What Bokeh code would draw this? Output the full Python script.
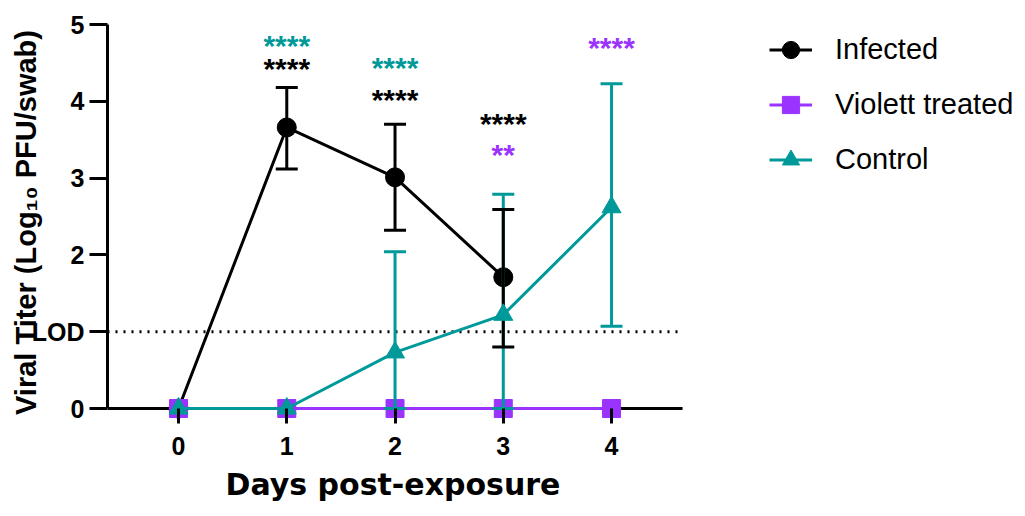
from bokeh.plotting import figure
from bokeh.models import ColumnDataSource, Legend, LegendItem, FixedTicker, Range1d, Title
from bokeh.core.properties import value
from bokeh.embed import file_html
from bokeh.resources import INLINE

# ---------------- data ----------------
days = [0, 1, 2, 3, 4]
x_ticks = [0, 1, 2, 3, 4]
y_ticks = [0, 1, 2, 3, 4, 5]
y_tick_labels = {1: "LOD"}
lod_value = 1

infected_days = [0, 1, 2, 3]
infected_mean = [0.0, 3.66, 3.01, 1.71]
infected_err_days = [1, 2, 3]
infected_upper = [4.18, 3.70, 2.59]
infected_lower = [3.12, 2.32, 0.80]

violett_days = [0, 1, 2, 3, 4]
violett_mean = [0.0, 0.0, 0.0, 0.0, 0.0]

control_days = [0, 1, 2, 3, 4]
control_mean = [0.0, 0.0, 0.73, 1.22, 2.62]
control_err_days = [2, 3, 4]
control_upper = [2.04, 2.79, 4.23]
control_lower = [0.0, 0.0, 1.07]

sig_days = [1, 1, 2, 2, 3, 3, 4]
sig_y = [4.77, 4.47, 4.48, 4.06, 3.75, 3.35, 4.74]
sig_text = ["****", "****", "****", "****", "****", "**", "****"]
sig_group = ["Control", "Infected", "Control", "Infected", "Infected", "Violett treated", "Violett treated"]

# ---------------- axis extents ----------------
X_START = -0.656          # left edge of the plotting area (y axis position)
X_AXIS_END = 4.656        # where the x axis line ends
X_END = 7.75              # frame extends right to hold the legend
Y_START = -0.156
Y_END = 5.0

# ---------------- style ----------------
BLACK = "#000000"
PURPLE = "#9B33FF"
TEAL = "#00999A"
colors = {"Infected": BLACK, "Violett treated": PURPLE, "Control": TEAL}
FONT = value("Liberation Sans")

p = figure(width=1017, height=508, output_backend="svg", toolbar_location=None,
           x_range=Range1d(X_START, X_END), y_range=Range1d(Y_START, Y_END),
           min_border_left=107, min_border_right=0, min_border_top=24, min_border_bottom=88)
p.outline_line_color = None
p.xgrid.visible = False
p.ygrid.visible = False
p.background_fill_color = "white"
p.border_fill_color = "white"

# axes
xa = p.xaxis[0]
xa.ticker = FixedTicker(ticks=x_ticks)
xa.axis_line_color = None
xa.major_tick_in = 12
xa.major_tick_out = 3
xa.major_tick_line_width = 3
xa.minor_tick_line_color = None
xa.major_label_text_font = "Liberation Sans"
xa.major_label_text_font_style = "bold"
xa.major_label_text_font_size = "25px"
xa.major_label_text_color = BLACK
xa.major_label_standoff = 13

# x axis title, placed under the axis line (frame extends further right for the legend)
x_title = Title(text="Days post-exposure", align="left", offset=118, standoff=14,
                text_font="DejaVu Sans", text_font_style="bold", text_font_size="30px",
                text_color=BLACK)
p.add_layout(x_title, "below")

ya = p.yaxis[0]
ya.ticker = FixedTicker(ticks=y_ticks)
ya.major_label_overrides = y_tick_labels
ya.bounds = (0, 5)
ya.axis_line_width = 3
ya.axis_line_color = BLACK
ya.major_tick_in = 0
ya.major_tick_out = 18
ya.major_tick_line_width = 3
ya.minor_tick_line_color = None
ya.major_label_text_font = "Liberation Sans"
ya.major_label_text_font_style = "bold"
ya.major_label_text_font_size = "25px"
ya.major_label_text_color = BLACK
ya.major_label_standoff = 5
ya.axis_label = "Viral Titer (Log\u2081\u2080 PFU/swab)"
ya.axis_label_text_font = "Liberation Sans"
ya.axis_label_text_font_style = "bold"
ya.axis_label_text_font_size = "29px"
ya.axis_label_text_color = BLACK
ya.axis_label_standoff = -13

# x axis line at y=0 and LOD dotted line (limited to the axis extent)
p.segment(x0=[X_START], y0=[0], x1=[X_AXIS_END], y1=[0], line_color=BLACK, line_width=3)
p.segment(x0=[X_START], y0=[lod_value], x1=[X_AXIS_END], y1=[lod_value], line_color=BLACK,
          line_width=3, line_dash="2 6")

inf_src = ColumnDataSource(dict(x=infected_days, y=infected_mean))
inf_err = ColumnDataSource(dict(x=infected_err_days, upper=infected_upper, lower=infected_lower))
vio_src = ColumnDataSource(dict(x=violett_days, y=violett_mean))
con_src = ColumnDataSource(dict(x=control_days, y=control_mean))
con_err = ColumnDataSource(dict(x=control_err_days, upper=control_upper, lower=control_lower))

# drawing order
l_inf = p.line("x", "y", source=inf_src, line_color=BLACK, line_width=3)
s_inf = p.scatter("x", "y", source=inf_src, marker="circle", size=19, fill_color=BLACK, line_color=BLACK)
l_vio = p.line("x", "y", source=vio_src, line_color=PURPLE, line_width=3)
s_vio = p.scatter("x", "y", source=vio_src, marker="square", size=18, fill_color=PURPLE, line_color=PURPLE)

p.segment(x0="x", y0="lower", x1="x", y1="upper", source=con_err, line_color=TEAL, line_width=3)
p.scatter("x", "upper", source=con_err, marker="dash", size=22, line_color=TEAL, line_width=3)
p.scatter("x", "lower", source=con_err, marker="dash", size=22, line_color=TEAL, line_width=3)
p.segment(x0="x", y0="lower", x1="x", y1="upper", source=inf_err, line_color=BLACK, line_width=3)
p.scatter("x", "upper", source=inf_err, marker="dash", size=22, line_color=BLACK, line_width=3)
p.scatter("x", "lower", source=inf_err, marker="dash", size=22, line_color=BLACK, line_width=3)

l_con = p.line("x", "y", source=con_src, line_color=TEAL, line_width=3)
s_con = p.scatter("x", "y", source=con_src, marker="triangle", size=19, fill_color=TEAL, line_color=TEAL)

# significance stars
sig_src = ColumnDataSource(dict(x=sig_days, y=sig_y, text=sig_text,
                                color=[colors[g] for g in sig_group]))
p.text("x", "y", text="text", source=sig_src, text_color="color", text_align="center",
       text_baseline="middle", text_font=FONT, text_font_style="bold", text_font_size="30px",
       y_offset=3)

legend = Legend(items=[
    LegendItem(label="Infected", renderers=[l_inf, s_inf]),
    LegendItem(label="Violett treated", renderers=[l_vio, s_vio]),
    LegendItem(label="Control", renderers=[l_con, s_con]),
], location=(662, 238))
legend.border_line_color = None
legend.background_fill_alpha = 0
legend.padding = 0
legend.margin = 0
legend.glyph_width = 43
legend.glyph_height = 45
legend.spacing = 10
legend.label_standoff = 23
legend.label_text_font = "Liberation Sans"
legend.label_text_font_size = "29px"
legend.label_text_color = BLACK
p.add_layout(legend)

open("out.html", "w").write(file_html(p, INLINE))
